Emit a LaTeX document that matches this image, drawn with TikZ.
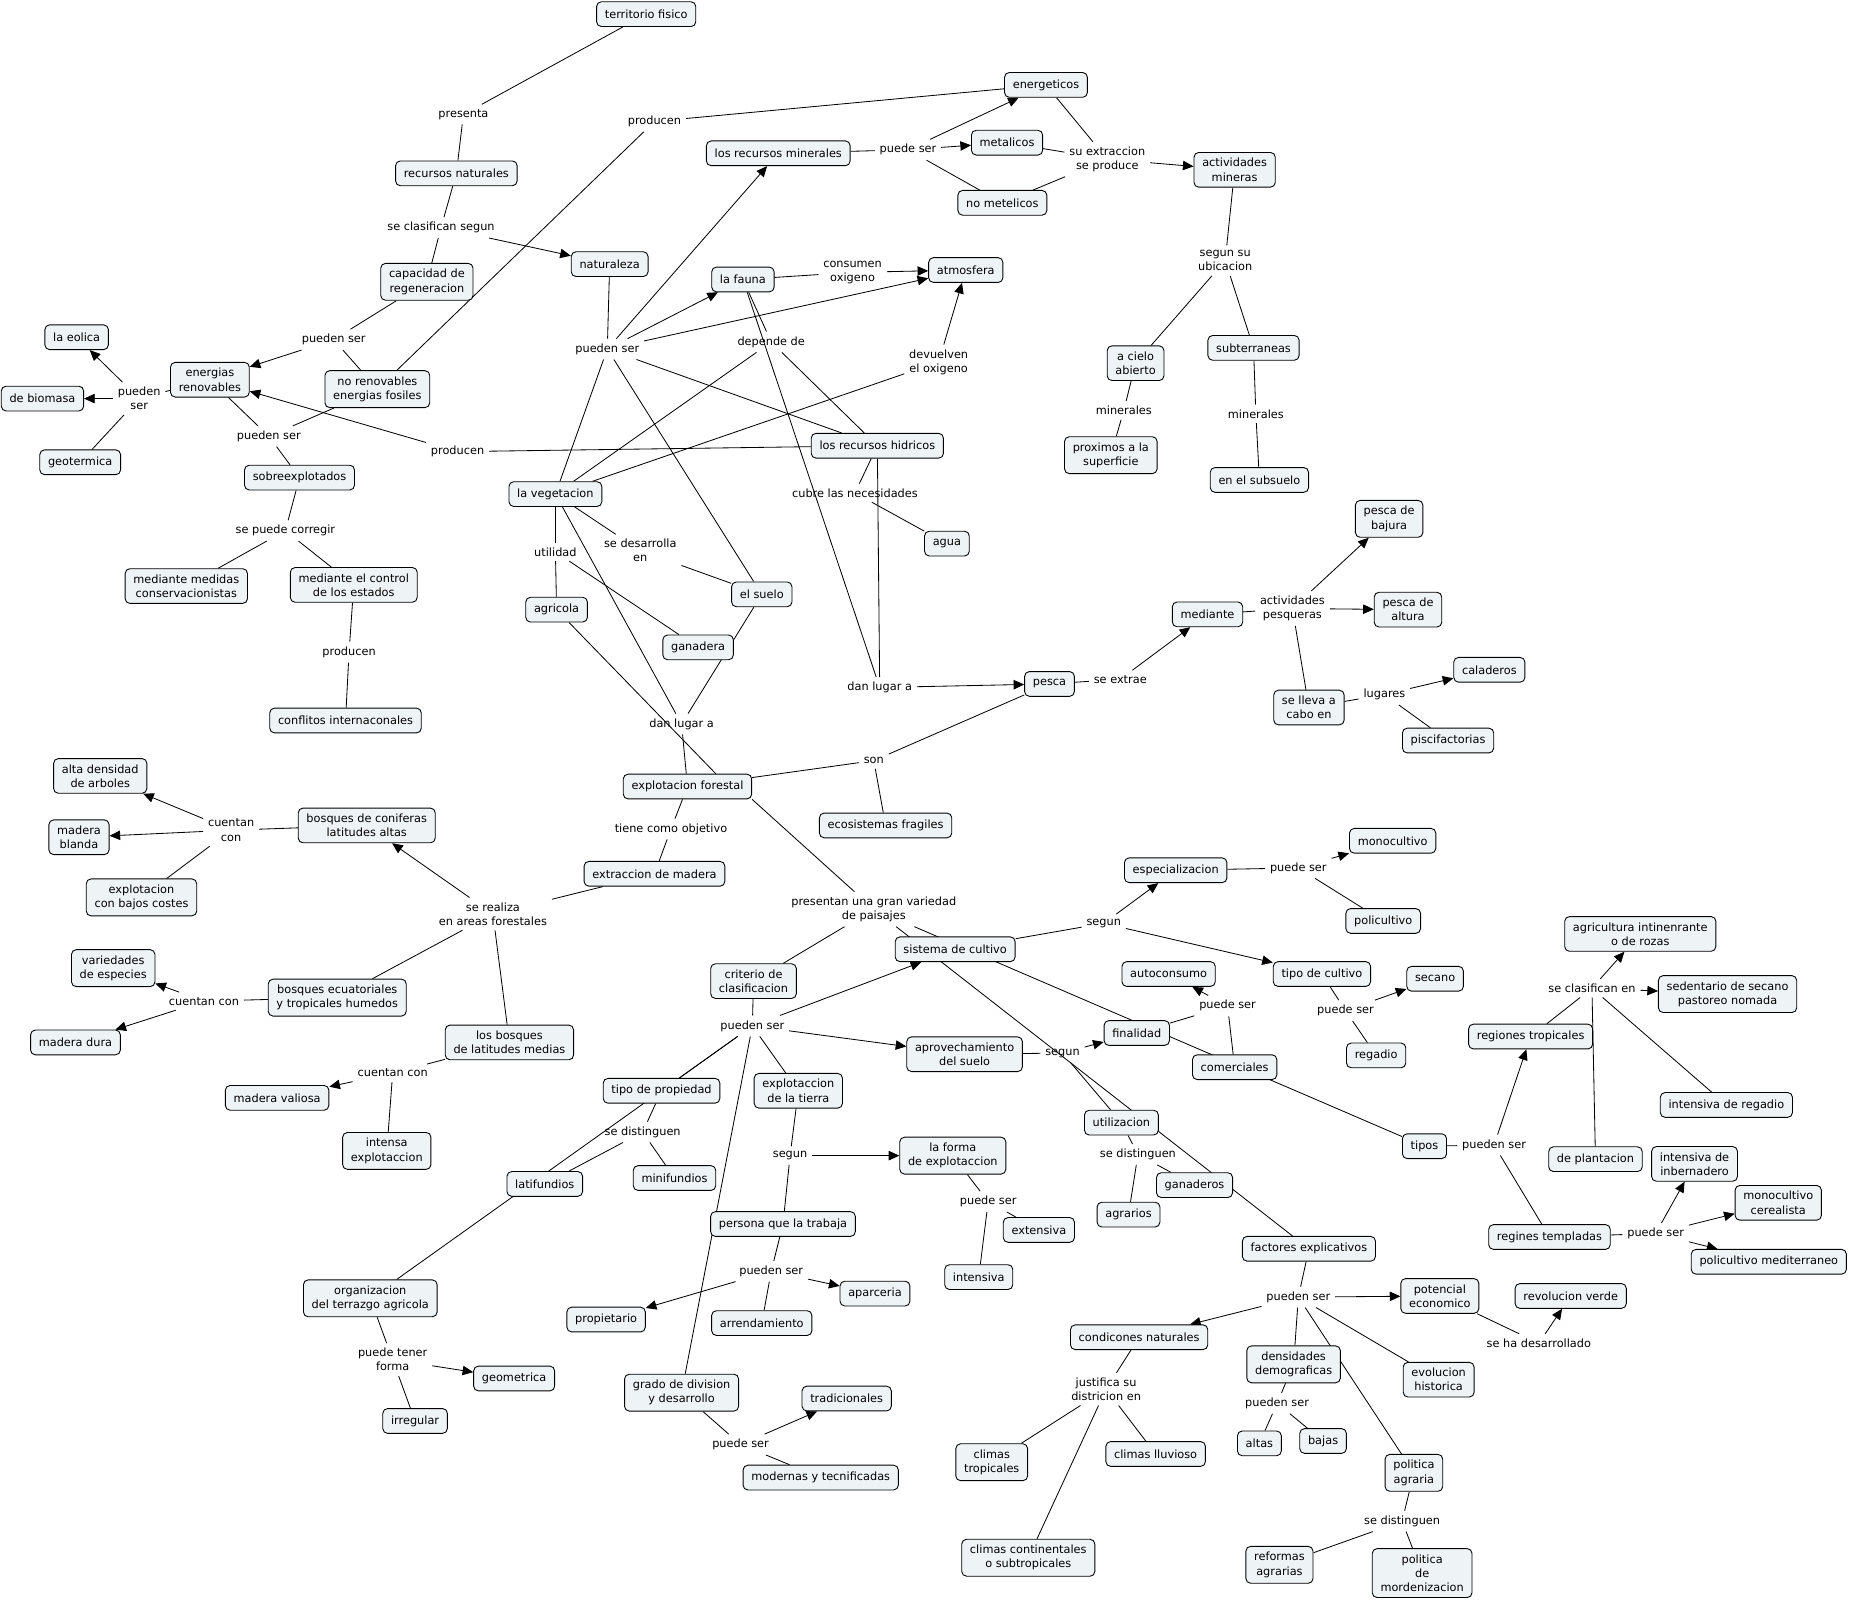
\documentclass[tikz,border=0pt]{standalone}
\usepackage{fontspec}
\setmainfont{DejaVu Sans}
\usetikzlibrary{arrows.meta,backgrounds}

\definecolor{cmapfill}{HTML}{EEF3F5}
\newcommand\cmapfont{\fontsize{9.6}{12}\selectfont}

\begin{document}
\begin{tikzpicture}[x=1pt, y=-1pt,
    concept/.style={draw, rounded corners=4pt, fill=cmapfill, line width=0.75pt,
        align=center, inner xsep=7pt, inner ysep=5pt, minimum height=21pt, font=\cmapfont},
    phrase/.style={align=center, inner sep=4pt, font=\cmapfont},
    link/.style={line width=0.7pt},
    linkto/.style={line width=0.7pt, -{Triangle[length=9pt,width=8pt]}}]
    \useasboundingbox (0,0) rectangle (1568,1359);

    % Draw concepts
    \node[concept] (terr) at (548,12) {territorio fisico};
    \node[concept] (recnat) at (387,147) {recursos naturales};
    \node[concept] (natur) at (517,224) {naturaleza};
    \node[concept] (capreg) at (362,239) {capacidad de\\regeneracion};
    \node[concept] (energren) at (178,322) {energias\\renovables};
    \node[concept] (noren) at (320,330) {no renovables\\energias fosiles};
    \node[concept] (eolica) at (65,286) {la eolica};
    \node[concept] (biomasa) at (36,338) {de biomasa};
    \node[concept] (geoterm) at (68,392) {geotermica};
    \node[concept] (sobreexp) at (254,405) {sobreexplotados};
    \node[concept] (medcons) at (158,497) {mediante medidas\\conservacionistas};
    \node[concept] (medcontrol) at (300,496) {mediante el control\\de los estados};
    \node[concept] (conflictos) at (293,611) {conflitos internaconales};
    \node[concept] (energeticos) at (887,72) {energeticos};
    \node[concept] (recmin) at (660,130) {los recursos minerales};
    \node[concept] (metalicos) at (854,121) {metalicos};
    \node[concept] (nometal) at (850,172) {no metelicos};
    \node[concept] (actmin) at (1047,144) {actividades\\mineras};
    \node[concept] (fauna) at (630,237) {la fauna};
    \node[concept] (atmos) at (819,229) {atmosfera};
    \node[concept] (acielo) at (963,308) {a cielo\\abierto};
    \node[concept] (subterr) at (1063,295) {subterraneas};
    \node[concept] (proximos) at (942,386) {proximos a la\\superficie};
    \node[concept] (subsuelo) at (1068,407) {en el subsuelo};
    \node[concept] (rechid) at (744,378) {los recursos hidricos};
    \node[concept] (veget) at (471,419) {la vegetacion};
    \node[concept] (agua) at (803,461) {agua};
    \node[concept] (agricola) at (472,517) {agricola};
    \node[concept] (suelo) at (646,504) {el suelo};
    \node[concept] (ganadera) at (592,549) {ganadera};
    \node[concept] (pescab) at (1178,440) {pesca de\\bajura};
    \node[concept] (mediante) at (1024,521) {mediante};
    \node[concept] (pescalt) at (1194,517) {pesca de\\altura};
    \node[concept] (pesca) at (890,580) {pesca};
    \node[concept] (llevacabo) at (1110,600) {se lleva a\\cabo en};
    \node[concept] (caladeros) at (1263,568) {caladeros};
    \node[concept] (piscif) at (1228,628) {piscifactorias};
    \node[concept] (explfor) at (583,667) {explotacion forestal};
    \node[concept] (ecosis) at (751,700) {ecosistemas fragiles};
    \node[concept] (altaden) at (85,658) {alta densidad\\de arboles};
    \node[concept] (coniferas) at (311,700) {bosques de coniferas\\latitudes altas};
    \node[concept] (madbl) at (67,710) {madera\\blanda};
    \node[concept] (bajoscost) at (120,761) {explotacion\\con bajos costes};
    \node[concept] (extrmad) at (555,741) {extraccion de madera};
    \node[concept] (variedades) at (96,821) {variedades\\de especies};
    \node[concept] (ecuat) at (286,846) {bosques ecuatoriales\\y tropicales humedos};
    \node[concept] (maddura) at (64,884) {madera dura};
    \node[concept] (latmed) at (432,884) {los bosques\\de latitudes medias};
    \node[concept] (madval) at (235,931) {madera valiosa};
    \node[concept] (intensa) at (328,976) {intensa\\explotaccion};
    \node[concept] (especial) at (997,738) {especializacion};
    \node[concept] (monocult) at (1181,713) {monocultivo};
    \node[concept] (policult) at (1173,781) {policultivo};
    \node[concept] (sistcult) at (810,805) {sistema de cultivo};
    \node[concept] (criterio) at (639,832) {criterio de\\clasificacion};
    \node[concept] (autocons) at (991,826) {autoconsumo};
    \node[concept] (tipocult) at (1121,826) {tipo de cultivo};
    \node[concept] (secano) at (1217,830) {secano};
    \node[concept] (agritin) at (1391,792) {agricultura intinenrante\\o de rozas};
    \node[concept] (sedent) at (1465,843) {sedentario de secano\\pastoreo nomada};
    \node[concept] (finalidad) at (964,876) {finalidad};
    \node[concept] (aprov) at (818,894) {aprovechamiento\\del suelo};
    \node[concept] (comerciales) at (1047,905) {comerciales};
    \node[concept] (regadio) at (1167,895) {regadio};
    \node[concept] (regtrop) at (1298,879) {regiones tropicales};
    \node[concept] (tipoprop) at (561,925) {tipo de propiedad};
    \node[concept] (explotierra) at (677,925) {explotaccion\\de la tierra};
    \node[concept] (intreg) at (1464,937) {intensiva de regadio};
    \node[concept] (utiliz) at (951,952) {utilizacion};
    \node[concept] (tipos) at (1208,972) {tipos};
    \node[concept] (deplant) at (1353,983) {de plantacion};
    \node[concept] (intinv) at (1437,987) {intensiva de\\inbernadero};
    \node[concept] (latif) at (462,1004) {latifundios};
    \node[concept] (minif) at (572,999) {minifundios};
    \node[concept] (formaexp) at (808,980) {la forma\\de explotaccion};
    \node[concept] (ganaderos) at (1013,1005) {ganaderos};
    \node[concept] (agrarios) at (957,1030) {agrarios};
    \node[concept] (monocer) at (1508,1020) {monocultivo\\cerealista};
    \node[concept] (extensiva) at (881,1043) {extensiva};
    \node[concept] (persona) at (664,1038) {persona que la trabaja};
    \node[concept] (regtemp) at (1314,1049) {regines templadas};
    \node[concept] (factores) at (1110,1059) {factores explicativos};
    \node[concept] (policmed) at (1500,1070) {policultivo mediterraneo};
    \node[concept] (intensiva) at (830,1083) {intensiva};
    \node[concept] (organiz) at (314,1101) {organizacion\\del terrazgo agricola};
    \node[concept] (revverde) at (1332,1099) {revolucion verde};
    \node[concept] (aparceria) at (742,1097) {aparceria};
    \node[concept] (potencial) at (1221,1099) {potencial\\economico};
    \node[concept] (propietario) at (514,1119) {propietario};
    \node[concept] (arrend) at (646,1122) {arrendamiento};
    \node[concept] (condic) at (966,1134) {condicones naturales};
    \node[concept] (densid) at (1097,1157) {densidades\\demograficas};
    \node[concept] (evoluc) at (1220,1170) {evolucion\\historica};
    \node[concept] (geometrica) at (436,1169) {geometrica};
    \node[concept] (tradicion) at (718,1186) {tradicionales};
    \node[concept] (grado) at (578,1181) {grado de division\\y desarrollo};
    \node[concept] (irregular) at (352,1205) {irregular};
    \node[concept] (climtrop) at (841,1240) {climas\\tropicales};
    \node[concept] (climllu) at (980,1233) {climas lluvioso};
    \node[concept] (altas) at (1068,1224) {altas};
    \node[concept] (bajas) at (1122,1222) {bajas};
    \node[concept] (polagr) at (1199,1249) {politica\\agraria};
    \node[concept] (modern) at (696,1253) {modernas y tecnificadas};
    \node[concept] (climcont) at (872,1321) {climas continentales\\o subtropicales};
    \node[concept] (reformas) at (1085,1327) {reformas\\agrarias};
    \node[concept] (polmod) at (1206,1334) {politica\\de\\mordenizacion};

    % Linking phrases
    \node[phrase] (lpresenta) at (393,97) {presenta};
    \node[phrase] (lprod1) at (555,103) {producen};
    \node[phrase] (lpuede1) at (770,127) {puede ser};
    \node[phrase] (lsuextr) at (939,135) {su extraccion\\se produce};
    \node[phrase] (lclasif) at (374,193) {se clasifican segun};
    \node[phrase] (lconsumen) at (723,231) {consumen\\oxigeno};
    \node[phrase] (lsegunsu) at (1039,221) {segun su\\ubicacion};
    \node[phrase] (lpueden1) at (283,288) {pueden ser};
    \node[phrase] (lpueden2) at (515,296) {pueden ser};
    \node[phrase] (ldepende) at (654,290) {depende de};
    \node[phrase] (ldevuelven) at (796,307) {devuelven\\el oxigeno};
    \node[phrase] (lpueden3) at (118,338) {pueden\\ser};
    \node[phrase] (lmin1) at (953,348) {minerales};
    \node[phrase] (lmin2) at (1065,351) {minerales};
    \node[phrase] (lpueden4) at (228,370) {pueden ser};
    \node[phrase] (lprod2) at (388,383) {producen};
    \node[phrase] (lcubre) at (725,418) {cubre las necesidades};
    \node[phrase] (lcorregir) at (242,450) {se puede corregir};
    \node[phrase] (lutilidad) at (471,468) {utilidad};
    \node[phrase] (ldesarrolla) at (543,467) {se desarrolla\\en};
    \node[phrase] (lactpesq) at (1096,516) {actividades\\pesqueras};
    \node[phrase] (lprod3) at (296,553) {producen};
    \node[phrase] (llugar1) at (746,583) {dan lugar a};
    \node[phrase] (lextrae) at (950,576) {se extrae};
    \node[phrase] (llugares) at (1174,589) {lugares};
    \node[phrase] (llugar2) at (578,614) {dan lugar a};
    \node[phrase] (lson) at (741,645) {son};
    \node[phrase] (lcuentan1) at (196,704) {cuentan\\con};
    \node[phrase] (lobjetivo) at (569,703) {tiene como objetivo};
    \node[phrase] (lpuede2) at (1101,736) {puede ser};
    \node[phrase] (lpresentan) at (741,771) {presentan una gran variedad\\de paisajes};
    \node[phrase] (lrealiza) at (418,775) {se realiza\\en areas forestales};
    \node[phrase] (lsegun1) at (936,783) {segun};
    \node[phrase] (lclasifen) at (1350,838) {se clasifican en};
    \node[phrase] (lcuentan2) at (173,849) {cuentan con};
    \node[phrase] (lpuede3) at (1041,853) {puede ser};
    \node[phrase] (lpuede4) at (1141,857) {puede ser};
    \node[phrase] (lpueden5) at (638,870) {pueden ser};
    \node[phrase] (lsegun2) at (901,893) {segun};
    \node[phrase] (lcuentan3) at (333,910) {cuentan con};
    \node[phrase] (ldist1) at (545,960) {se distinguen};
    \node[phrase] (lpueden6) at (1267,971) {pueden ser};
    \node[phrase] (ldist2) at (965,979) {se distinguen};
    \node[phrase] (lsegun3) at (670,980) {segun};
    \node[phrase] (lpuede5) at (838,1019) {puede ser};
    \node[phrase] (lpuede6) at (1404,1046) {puede ser};
    \node[phrase] (lpueden7) at (654,1078) {pueden ser};
    \node[phrase] (lpueden8) at (1101,1100) {pueden ser};
    \node[phrase] (ldesarrollado) at (1305,1139) {se ha desarrollado};
    \node[phrase] (ltener) at (333,1153) {puede tener\\forma};
    \node[phrase] (ljustifica) at (938,1178) {justifica su\\districion en};
    \node[phrase] (lpueden9) at (1083,1190) {pueden ser};
    \node[phrase] (lpuede7) at (628,1225) {puede ser};
    \node[phrase] (ldist3) at (1189,1290) {se distinguen};

    % Draw connections
    \begin{pgfonlayer}{background}
    % recursos naturales
    \draw[link] (terr) -- (lpresenta);
    \draw[link] (lpresenta) -- (recnat);
    \draw[link] (recnat) -- (lclasif);
    \draw[link] (lclasif) -- (capreg);
    \draw[linkto] (lclasif) -- (natur);
    \draw[link] (capreg) -- (lpueden1);
    \draw[link] (lpueden1) -- (noren);
    \draw[linkto] (lpueden1) -- (energren);
    \draw[link] (noren) -- (lprod1);
    \draw[link] (lprod1) -- (energeticos);
    \draw[link] (energren) -- (lpueden3);
    \draw[link] (lpueden3) -- (geoterm);
    \draw[linkto] (lpueden3) -- (eolica);
    \draw[linkto] (lpueden3) -- (biomasa);
    \draw[link] (energren) -- (lpueden4);
    \draw[link] (noren) -- (lpueden4);
    \draw[link] (lpueden4) -- (sobreexp);
    \draw[link] (sobreexp) -- (lcorregir);
    \draw[link] (lcorregir) -- (medcons);
    \draw[link] (lcorregir) -- (medcontrol);
    \draw[link] (medcontrol) -- (lprod3);
    \draw[link] (lprod3) -- (conflictos);
    % naturaleza
    \draw[link] (natur) -- (lpueden2);
    \draw[link] (lpueden2) -- (veget);
    \draw[link] (lpueden2) -- (suelo);
    \draw[link] (lpueden2) -- (rechid);
    \draw[linkto] (lpueden2) -- (recmin);
    \draw[linkto] (lpueden2) -- (fauna);
    \draw[linkto] (lpueden2) -- (atmos);
    \draw[link] (fauna) -- (lconsumen);
    \draw[linkto] (lconsumen) -- (atmos);
    \draw[link] (fauna) -- (ldepende);
    \draw[link] (ldepende) -- (veget);
    \draw[link] (ldepende) -- (rechid);
    \draw[link] (veget) -- (ldevuelven);
    \draw[linkto] (ldevuelven) -- (atmos);
    \draw[link] (rechid) -- (lprod2);
    \draw[linkto] (lprod2) -- (energren);
    \draw[link] (rechid) -- (lcubre);
    \draw[link] (lcubre) -- (agua);
    \draw[link] (fauna) -- (llugar1);
    \draw[link] (rechid) -- (llugar1);
    \draw[linkto] (llugar1) -- (pesca);
    % recursos minerales
    \draw[link] (recmin) -- (lpuede1);
    \draw[link] (lpuede1) -- (nometal);
    \draw[linkto] (lpuede1) -- (energeticos);
    \draw[linkto] (lpuede1) -- (metalicos);
    \draw[link] (energeticos) -- (lsuextr);
    \draw[link] (metalicos) -- (lsuextr);
    \draw[link] (nometal) -- (lsuextr);
    \draw[linkto] (lsuextr) -- (actmin);
    \draw[link] (actmin) -- (lsegunsu);
    \draw[link] (lsegunsu) -- (acielo);
    \draw[link] (lsegunsu) -- (subterr);
    \draw[link] (acielo) -- (lmin1);
    \draw[link] (lmin1) -- (proximos);
    \draw[link] (subterr) -- (lmin2);
    \draw[link] (lmin2) -- (subsuelo);
    % vegetacion
    \draw[link] (veget) -- (lutilidad);
    \draw[link] (lutilidad) -- (agricola);
    \draw[link] (lutilidad) -- (ganadera);
    \draw[link] (veget) -- (ldesarrolla);
    \draw[link] (ldesarrolla) -- (suelo);
    \draw[link] (veget) -- (llugar2);
    \draw[link] (suelo) -- (llugar2);
    \draw[link] (agricola) -- ([xshift=24pt]explfor.north);
    \draw[link] (llugar2) -- (explfor);
    % pesca
    \draw[link] (pesca) -- (lextrae);
    \draw[linkto] (lextrae) -- (mediante);
    \draw[link] (mediante) -- (lactpesq);
    \draw[link] (lactpesq) -- (llevacabo);
    \draw[linkto] (lactpesq) -- (pescab);
    \draw[linkto] (lactpesq) -- (pescalt);
    \draw[link] (llevacabo) -- (llugares);
    \draw[link] (llugares) -- (piscif);
    \draw[linkto] (llugares) -- (caladeros);
    \draw[link] (explfor) -- (lson);
    \draw[link] (lson) -- (pesca);
    \draw[link] (lson) -- (ecosis);
    % explotacion forestal
    \draw[link] (explfor) -- (lobjetivo);
    \draw[link] (lobjetivo) -- (extrmad);
    \draw[link] (extrmad) -- (lrealiza);
    \draw[link] (lrealiza) -- (ecuat);
    \draw[link] (lrealiza) -- (latmed);
    \draw[linkto] (lrealiza) -- (coniferas);
    \draw[link] (coniferas) -- (lcuentan1);
    \draw[link] (lcuentan1) -- (bajoscost);
    \draw[linkto] (lcuentan1) -- (altaden);
    \draw[linkto] (lcuentan1) -- (madbl);
    \draw[link] (ecuat) -- (lcuentan2);
    \draw[linkto] (lcuentan2) -- (variedades);
    \draw[linkto] (lcuentan2) -- (maddura);
    \draw[link] (latmed) -- (lcuentan3);
    \draw[link] (lcuentan3) -- (intensa);
    \draw[linkto] (lcuentan3) -- (madval);
    % paisajes
    \draw[link] (explfor.south east) -- (lpresentan);
    \draw[link] (lpresentan) -- (criterio);
    \draw[link] (lpresentan) -- (factores);
    \draw[link] (lpresentan) -- (tipos);
    \draw[link] (criterio) -- (lpueden5);
    \draw[link] (lpueden5) -- (tipoprop);
    \draw[link] (lpueden5) -- (organiz);
    \draw[link] (lpueden5) -- (explotierra);
    \draw[link] (lpueden5) -- (grado);
    \draw[linkto] (lpueden5) -- (sistcult);
    \draw[linkto] (lpueden5) -- (aprov);
    \draw[link] (tipoprop) -- (ldist1);
    \draw[link] (ldist1) -- (latif);
    \draw[link] (ldist1) -- (minif);
    \draw[link] (explotierra) -- (lsegun3);
    \draw[link] (lsegun3) -- (persona);
    \draw[linkto] (lsegun3) -- (formaexp);
    \draw[link] (formaexp) -- (lpuede5);
    \draw[link] (lpuede5) -- (extensiva);
    \draw[link] (lpuede5) -- (intensiva);
    \draw[link] (persona) -- (lpueden7);
    \draw[link] (lpueden7) -- (arrend);
    \draw[linkto] (lpueden7) -- (propietario);
    \draw[linkto] (lpueden7) -- (aparceria);
    \draw[link] (grado) -- (lpuede7);
    \draw[link] (lpuede7) -- (modern);
    \draw[linkto] (lpuede7) -- (tradicion);
    \draw[link] (organiz) -- (ltener);
    \draw[link] (ltener) -- (irregular);
    \draw[linkto] (ltener) -- (geometrica);
    \draw[link] (sistcult) -- (lsegun1);
    \draw[linkto] (lsegun1) -- (especial);
    \draw[linkto] (lsegun1) -- (tipocult);
    \draw[link] (especial) -- (lpuede2);
    \draw[link] (lpuede2) -- (policult);
    \draw[linkto] (lpuede2) -- (monocult);
    \draw[link] (tipocult) -- (lpuede4);
    \draw[link] (lpuede4) -- (regadio);
    \draw[linkto] (lpuede4) -- (secano);
    \draw[link] (aprov) -- (lsegun2);
    \draw[link] (lsegun2) -- (utiliz);
    \draw[linkto] (lsegun2) -- (finalidad);
    \draw[link] (finalidad) -- (lpuede3);
    \draw[link] (lpuede3) -- (comerciales);
    \draw[linkto] (lpuede3) -- (autocons);
    \draw[link] (utiliz) -- (ldist2);
    \draw[link] (ldist2) -- (agrarios);
    \draw[link] (ldist2) -- (ganaderos);
    \draw[link] (tipos) -- (lpueden6);
    \draw[link] (lpueden6) -- (regtemp);
    \draw[linkto] (lpueden6) -- (regtrop);
    \draw[link] (regtrop) -- (lclasifen);
    \draw[link] (lclasifen) -- (deplant);
    \draw[link] (lclasifen) -- (intreg);
    \draw[linkto] (lclasifen) -- (agritin);
    \draw[linkto] (lclasifen) -- (sedent);
    \draw[link] (regtemp) -- (lpuede6);
    \draw[linkto] (lpuede6) -- (intinv);
    \draw[linkto] (lpuede6) -- (monocer);
    \draw[linkto] (lpuede6) -- (policmed);
    \draw[link] (factores) -- (lpueden8);
    \draw[link] (lpueden8) -- (densid);
    \draw[link] (lpueden8) -- (evoluc);
    \draw[link] (lpueden8) -- (polagr);
    \draw[linkto] (lpueden8) -- (condic);
    \draw[linkto] (lpueden8) -- (potencial);
    \draw[link] (potencial) -- (ldesarrollado);
    \draw[linkto] (ldesarrollado) -- (revverde);
    \draw[link] (densid) -- (lpueden9);
    \draw[link] (lpueden9) -- (altas);
    \draw[link] (lpueden9) -- (bajas);
    \draw[link] (polagr) -- (ldist3);
    \draw[link] (ldist3) -- (reformas);
    \draw[link] (ldist3) -- (polmod);
    \draw[link] (condic) -- (ljustifica);
    \draw[link] (ljustifica) -- (climtrop);
    \draw[link] (ljustifica) -- (climllu);
    \draw[link] (ljustifica) -- (climcont);
    \end{pgfonlayer}
\end{tikzpicture}
\end{document}
